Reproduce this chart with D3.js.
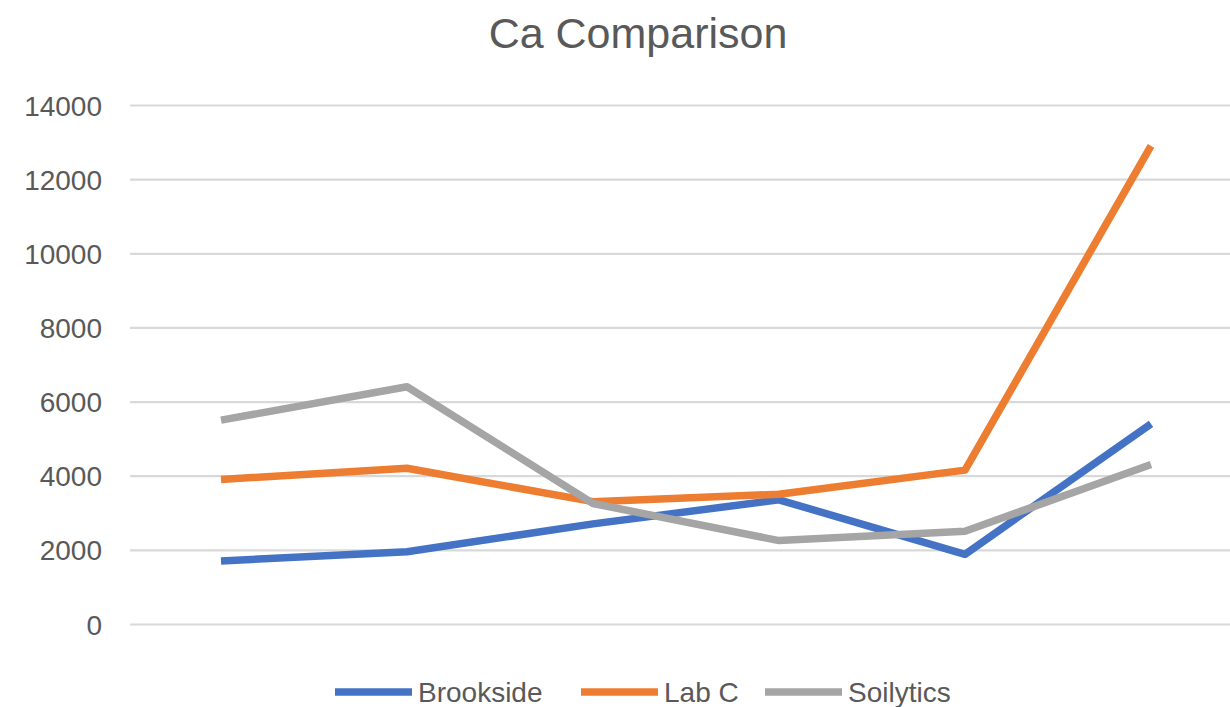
<!DOCTYPE html>
<html>
<head>
<meta charset="utf-8">
<script src="https://cdn.jsdelivr.net/npm/d3@7"></script>
<style>
  html, body { margin: 0; padding: 0; background: #fff; }
  svg { display: block; font-family: "Liberation Sans", Arial, sans-serif; }
</style>
</head>
<body>
<svg id="chart" width="1230" height="707"></svg>
<script>
// Sample sites (category axis, labels hidden)
const categories = ["1", "2", "3", "4", "5", "6"];

// Calcium results per lab
const brookside = [1700, 1950, 2700, 3350, 1880, 5400];
const labC      = [3900, 4200, 3300, 3500, 4150, 12900];
const soilytics = [5500, 6400, 3250, 2250, 2500, 4300];

const yTicks = [0, 2000, 4000, 6000, 8000, 10000, 12000, 14000];

const seriesNames  = ["Brookside", "Lab C", "Soilytics"];
const seriesColors = ["#4472C4", "#ED7D31", "#A5A5A5"];

const series = [brookside, labC, soilytics].map((values, i) => ({
  name: seriesNames[i],
  color: seriesColors[i],
  values
}));

const svg = d3.select("#chart");

const x = d3.scalePoint()
  .domain(categories)
  .range([128, 1244])
  .padding(0.5);

const y = d3.scaleLinear()
  .domain([0, 14000])
  .range([624, 105]);

// Title
svg.append("text")
  .attr("x", 638)
  .attr("y", 48)
  .attr("text-anchor", "middle")
  .attr("fill", "#595959")
  .style("font-size", "43px")
  .text("Ca Comparison");

// Horizontal gridlines and value labels
const yAxis = d3.axisLeft(y)
  .tickValues(yTicks)
  .tickFormat(d3.format("d"))
  .tickSize(-(1244 - 130))
  .tickPadding(28);

const gAxis = svg.append("g")
  .attr("transform", "translate(130,0)")
  .call(yAxis);

gAxis.select(".domain").remove();
gAxis.selectAll(".tick line")
  .attr("stroke", "#D9D9D9")
  .attr("stroke-width", 2.2);
gAxis.selectAll(".tick text")
  .attr("fill", "#595959")
  .attr("dy", "0.36em")
  .style("font-size", "28px")
  .style("font-family", "\"Liberation Sans\", Arial, sans-serif");

// Series lines
const line = d3.line()
  .x((d, i) => x(categories[i]))
  .y(d => y(d));

svg.append("g")
  .selectAll("path")
  .data(series)
  .join("path")
  .attr("d", d => line(d.values))
  .attr("fill", "none")
  .attr("stroke", d => d.color)
  .attr("stroke-width", 7.5)
  .attr("stroke-linejoin", "round")
  .attr("stroke-linecap", "butt");

// Legend
const legendX = [335, 581, 765];
const legend = svg.append("g")
  .selectAll("g")
  .data(series)
  .join("g")
  .attr("transform", (d, i) => `translate(${legendX[i]},692)`);

legend.append("line")
  .attr("x1", 0)
  .attr("x2", 77)
  .attr("y1", 0)
  .attr("y2", 0)
  .attr("stroke", d => d.color)
  .attr("stroke-width", 7.5);

legend.append("text")
  .attr("x", 83)
  .attr("y", 0)
  .attr("dy", "0.36em")
  .attr("fill", "#595959")
  .style("font-size", "28px")
  .text(d => d.name);
</script>
</body>
</html>
